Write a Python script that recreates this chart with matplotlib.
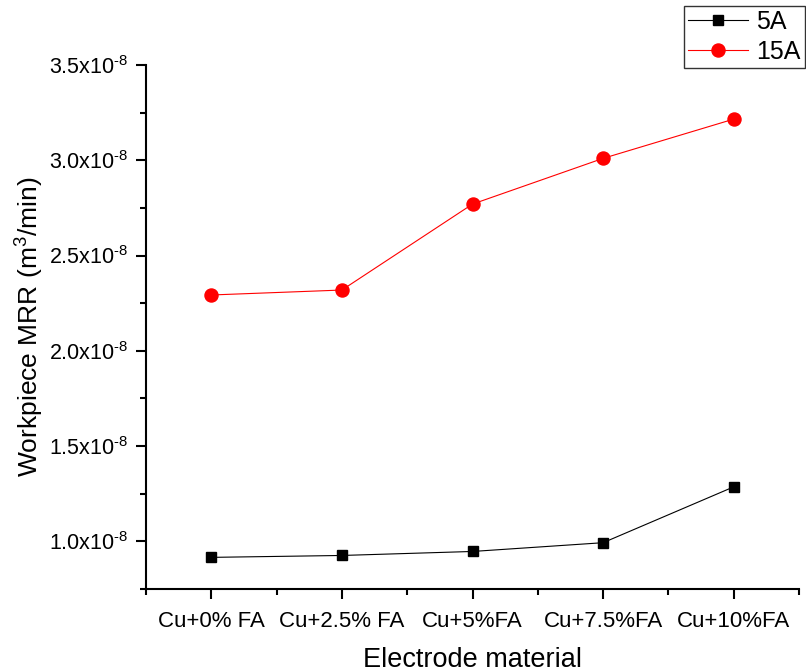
import matplotlib
matplotlib.use("Agg")
import matplotlib.pyplot as plt
from matplotlib.ticker import MultipleLocator, FuncFormatter

plt.rcParams['font.family'] = ['Liberation Sans', 'DejaVu Sans']
plt.rcParams['mathtext.fontset'] = 'custom'
plt.rcParams['mathtext.rm'] = 'Liberation Sans'
plt.rcParams['mathtext.it'] = 'Liberation Sans:italic'
plt.rcParams['mathtext.bf'] = 'Liberation Sans:bold'

categories = ["Cu+0% FA", "Cu+2.5% FA", "Cu+5%FA", "Cu+7.5%FA", "Cu+10%FA"]
mrr_5A = [0.916e-8, 0.926e-8, 0.947e-8, 0.993e-8, 1.286e-8]
mrr_15A = [2.293e-8, 2.319e-8, 2.770e-8, 3.010e-8, 3.216e-8]
series_labels = ["5A", "15A"]

fig = plt.figure(figsize=(8.06, 6.72), dpi=100)
ax = fig.add_axes([146/806, 1-589/672, (799-146)/806, (589-65)/672])

x = list(range(len(categories)))
ax.plot(x, mrr_5A, color='black', lw=0.8, marker='s', ms=7.7,
        mfc='black', mec='black', label=series_labels[0])
ax.plot(x, mrr_15A, color='red', lw=0.8, marker='o', ms=9.4,
        mfc='red', mec='red', label=series_labels[1])

ax.set_xlim(-0.5, 4.5)
ax.set_ylim(0.75e-8, 3.5e-8)
ax.set_xticks(x)
ax.set_xticklabels(categories)
ax.xaxis.set_minor_locator(MultipleLocator(0.5))
ax.yaxis.set_major_locator(MultipleLocator(0.5e-8))
ax.yaxis.set_minor_locator(MultipleLocator(0.25e-8))

def fmt(v, pos):
    return r'%.1fx10$^{\text{-8}}$' % (v / 1e-8)
ax.yaxis.set_major_formatter(FuncFormatter(fmt))

for s in ['top', 'right']:
    ax.spines[s].set_visible(False)
for s in ['left', 'bottom']:
    ax.spines[s].set_linewidth(1.5)

ax.tick_params(which='major', direction='out', length=7.5, width=1.5, pad=5)
ax.tick_params(which='minor', direction='out', length=4, width=1.5)
ax.tick_params(axis='x', labelsize=16, pad=8)
ax.tick_params(axis='y', labelsize=15.5)

ax.set_xlabel("Electrode material", fontsize=19.5)
ax.set_ylabel(r"Workpiece MRR (m$^3$/min)", fontsize=19)
ax.xaxis.set_label_coords(0.5, (589-647)/524)
ax.yaxis.set_label_coords((46-146)/653, 0.5)

leg = ax.legend(loc='upper left', bbox_to_anchor=(684/806, 1-6/672),
                bbox_transform=fig.transFigure, fontsize=18, numpoints=1,
                handlelength=2.4, handletextpad=0.35, borderpad=0.15,
                labelspacing=0.25, borderaxespad=0, fancybox=False,
                framealpha=1)
leg.get_frame().set_edgecolor('#333333')
leg.get_frame().set_linewidth(1.0)

fig.savefig("out.png", dpi=100)
